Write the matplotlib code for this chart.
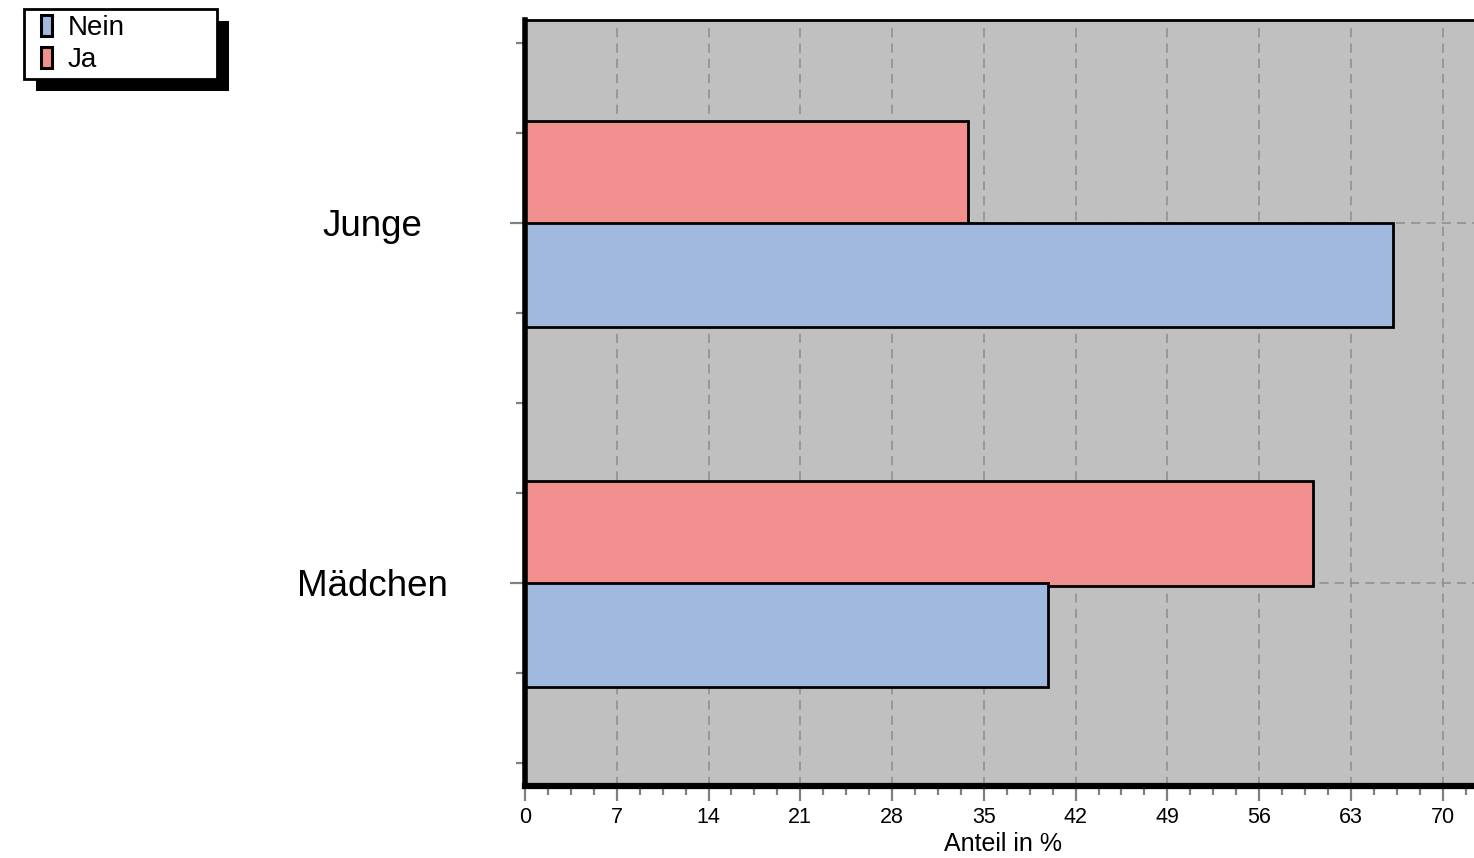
import numpy as np
import matplotlib
matplotlib.use("Agg")
import matplotlib.pyplot as plt
from matplotlib.patches import Rectangle, Patch
from matplotlib.legend_handler import HandlerPatch
from matplotlib.ticker import MultipleLocator

plt.rcParams["font.family"] = ["Liberation Sans", "DejaVu Sans"]

# Daten
kategorien = ["Mädchen", "Junge"]
nein = [39.9, 66.2]
ja = [60.1, 33.8]
x_ticks = [0, 7, 14, 21, 28, 35, 42, 49, 56, 63, 70]

farbe_nein = "#a1b8df"
farbe_ja = "#f28f8f"
hintergrund = "#c0c0c0"

fig = plt.figure(figsize=(14.74, 8.58), dpi=100)
W, H = 1474, 858
ax = fig.add_axes([525 / W, 72 / H, 957 / W, 766 / H])
ax.set_facecolor(hintergrund)

y = np.arange(len(kategorien))
h = 0.29
ax.barh(y + 0.138, ja, height=h, color=farbe_ja, edgecolor="black", linewidth=2, zorder=3)
ax.barh(y - 0.145, nein, height=h, color=farbe_nein, edgecolor="black", linewidth=2, zorder=4)

ax.set_xlim(0, 73)
ax.set_ylim(-0.564, 1.564)

ax.set_xticks(x_ticks)
ax.xaxis.set_minor_locator(MultipleLocator(1.75))
ax.set_yticks(y)
ax.set_yticklabels([])
ax.yaxis.set_minor_locator(MultipleLocator(0.25))

ax.tick_params(axis="both", which="major", color="#808080", length=11, width=1.6,
               labelsize=15.5, pad=4)
ax.tick_params(axis="both", which="minor", color="#808080", length=6.5, width=1.6)

# Gitter
for xv in x_ticks[1:]:
    ax.axvline(xv, color="#8c8c8c", linestyle=(0, (6, 4)), linewidth=1.1, zorder=1)
for yv in y:
    ax.axhline(yv, color="#8c8c8c", linestyle=(0, (6, 4)), linewidth=1.1, zorder=1)

# Achsenlinien
ax.spines["left"].set_linewidth(4)
ax.spines["bottom"].set_linewidth(4.5)
ax.spines["top"].set_linewidth(2)
ax.spines["right"].set_visible(False)
for s in ax.spines.values():
    s.set_zorder(6)

# Kategorienbeschriftung
for yi, name in zip(y, kategorien):
    ax.text(-153 / 957, yi - 13 / 360, name, transform=ax.get_yaxis_transform(),
            ha="center", va="baseline", fontsize=26.5)

ax.set_xlabel("Anteil in %", fontsize=18, labelpad=3)


# Legende mit kleinen Kästchen
def kaestchen(legend, orig_handle, xdescent, ydescent, width, height, fontsize):
    rw, rh = 8, 15
    return Rectangle((-xdescent + width - rw, -ydescent + (height - rh) / 2), rw, rh)


handles = [Patch(facecolor=farbe_nein, edgecolor="black", linewidth=2.2),
           Patch(facecolor=farbe_ja, edgecolor="black", linewidth=2.2)]
leg = fig.legend(handles, ["Nein", "Ja"], loc="upper left",
                 bbox_to_anchor=(24 / W, 1 - 9 / H, 193 / W, 0.0),
                 mode="expand", borderaxespad=0, fontsize=20,
                 handlelength=0.8, handleheight=0.75, handletextpad=0.55,
                 labelspacing=0.22, borderpad=0.22, fancybox=False,
                 framealpha=1, edgecolor="black",
                 handler_map={Patch: HandlerPatch(patch_func=kaestchen)})
leg.get_frame().set_linewidth(2)
fig.canvas.draw()
bb = leg.get_window_extent()
schatten = Rectangle((bb.x0 + 12, bb.y0 - 12), bb.width, bb.height,
                     transform=None, facecolor="black", edgecolor="none", zorder=0)
fig.patches.append(schatten)

fig.savefig("out.png", dpi=100)
